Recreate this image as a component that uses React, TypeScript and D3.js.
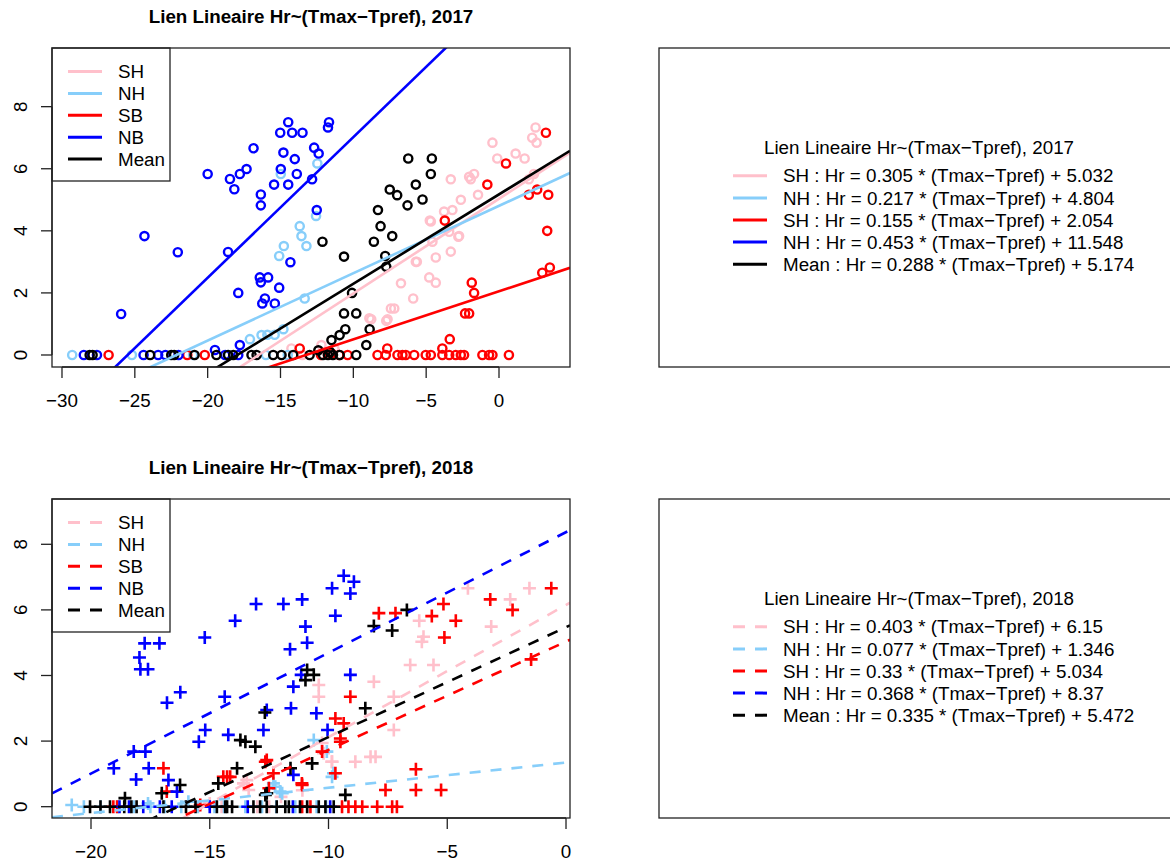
import React from 'react';
import * as d3 from 'd3';

type P = [number, number];

const groupNames = ['SH', 'NH', 'SB', 'NB', 'Mean'];
const groupColors = ['pink', 'lightskyblue', 'red', 'blue', 'black'];
const eqNames = ['SH', 'NH', 'SH', 'NH', 'Mean'];

const slopes2017 = [0.305, 0.217, 0.155, 0.453, 0.288];
const intercepts2017 = [5.032, 4.804, 2.054, 11.548, 5.174];
const slopes2018 = [0.403, 0.077, 0.33, 0.368, 0.335];
const intercepts2018 = [6.15, 1.346, 5.034, 8.37, 5.472];

const xTicks2017 = [-30, -25, -20, -15, -10, -5, 0];
const xTicks2018 = [-20, -15, -10, -5, 0];
const yTicks = [0, 2, 4, 6, 8];

const sh2017: P[] = [
  [-7.19, 1.5], [-7.42, 1.5], [-8.77, 1.15], [-7.74, 1.1], [-8.9, 1.18], [-7.65, 1.15], [-12.19, 0.32],
  [-14.25, 0.21], [-11.3, 0.2], [-6.73, 2.31], [-5.89, 1.82], [-5.71, 3.0], [-4.79, 2.5], [-4.34, 2.33],
  [-4.34, 3.14], [-3.31, 3.33], [-2.79, 3.81], [-4.68, 4.3], [-3.77, 4.62], [-3.2, 4.67], [-2.62, 5.0],
  [-3.31, 5.66], [-2.05, 5.74], [-1.71, 5.83], [-1.94, 5.66], [-1.44, 5.16], [-0.45, 6.84], [-0.12, 6.33],
  [1.14, 6.49], [1.76, 6.33], [2.51, 7.33], [2.28, 7.0], [2.58, 6.84], [2.4, 5.83], [2.05, 5.66],
  [-4.75, 4.33], [-4.57, 3.65], [-3.42, 3.97], [-2.74, 3.83], [-5.64, 3.0], [-13.5, 0], [-11.8, 0.05],
];
const nh2017: P[] = [
  [-29.3, 0], [-25.2, 0], [-21.0, 0], [-18.6, 0], [-12.47, 6.17], [-14.98, 5.83], [-12.56, 4.48],
  [-13.68, 4.15], [-13.56, 3.83], [-13.22, 3.51], [-14.77, 3.51], [-15.09, 3.19], [-13.34, 1.82],
  [-17.1, 0.51], [-16.3, 0.64], [-15.9, 0.65], [-15.4, 0.65], [-14.8, 0.83], [-16.0, 0], [-14.5, 0],
];
const sb2017: P[] = [
  [-26.8, 0], [-21.4, 0], [-20.2, 0], [-13.68, 0.21], [-12.22, 0], [-10.96, 0], [-10.39, 0], [-8.34, 0],
  [-7.77, 0], [-7.67, 0.21], [-6.97, 0], [-6.63, 0], [-6.4, 0], [-5.82, 0], [-5.03, 0], [-4.68, 0],
  [-3.89, 0], [-3.89, 0.21], [-3.42, 0], [-2.97, 0], [-2.62, 0], [-2.4, 0], [-1.14, 0], [-0.68, 0],
  [-0.45, 0], [0.68, 0], [-3.38, 0.51], [-2.33, 1.34], [-2.05, 1.34], [-1.87, 2.33], [-1.71, 2.0],
  [-3.72, 4.33], [-0.8, 5.49], [0.48, 6.17], [3.22, 7.16], [2.05, 5.16], [2.62, 5.33], [3.38, 5.16],
  [3.31, 4.0], [2.97, 2.65], [3.49, 2.82], [-11.5, 0.05],
];
const nb2017: P[] = [
  [-28.5, 0], [-27.6, 0], [-24.4, 0], [-23.4, 0], [-22.9, 0], [-22.0, 0], [-18.8, 0], [-19.5, 0.16],
  [-17.9, 0], [-25.94, 1.32], [-24.34, 3.83], [-22.05, 3.31], [-18.6, 3.32], [-20.0, 5.83], [-14.47, 7.5],
  [-15.02, 7.16], [-14.2, 7.16], [-13.49, 7.16], [-11.67, 7.5], [-11.74, 7.33], [-16.85, 6.66],
  [-14.8, 6.52], [-12.69, 6.68], [-12.38, 6.49], [-14.02, 6.31], [-14.98, 5.99], [-17.33, 5.99],
  [-17.79, 5.83], [-18.47, 5.67], [-18.17, 5.34], [-15.44, 5.49], [-14.47, 5.49], [-13.88, 5.83],
  [-12.83, 5.66], [-16.35, 5.17], [-16.35, 4.82], [-12.51, 4.67], [-14.32, 2.99], [-16.42, 2.5],
  [-15.85, 2.5], [-16.35, 2.34], [-17.9, 2.0], [-15.09, 2.17], [-16.07, 1.82], [-16.25, 1.66],
  [-15.39, 1.66], [-17.79, 0.32],
];
const mean2017: P[] = [
  [-28.1, 0], [-27.9, 0], [-23.95, 0], [-22.5, 0], [-22.3, 0], [-20.9, 0], [-19.4, 0], [-18.6, 0],
  [-18.24, 0], [-16.99, 0], [-16.64, 0], [-15.5, 0], [-14.93, 0], [-14.13, 0], [-13.0, 0], [-12.08, 0],
  [-11.74, 0], [-11.4, 0], [-10.94, 0], [-9.8, 0], [-12.12, 3.65], [-10.64, 3.17], [-10.09, 2.0],
  [-10.64, 1.34], [-9.8, 1.34], [-10.55, 0.83], [-10.94, 0.64], [-11.5, 0.48], [-9.11, 0.32],
  [-8.88, 0.83], [-7.5, 5.33], [-6.99, 5.15], [-8.31, 4.67], [-8.13, 4.15], [-7.33, 3.83], [-8.59, 3.65],
  [-7.81, 3.19], [-7.74, 2.84], [-6.23, 6.33], [-4.61, 6.33], [-4.68, 5.83], [-5.71, 5.49], [-6.28, 4.82],
  [-5.25, 5.01], [-11.6, 0.1], [-12.4, 0.15],
];

const sh2018: P[] = [
  [-10.41, 3.71], [-10.41, 3.35], [-8.09, 3.81], [-7.25, 3.35], [-7.25, 2.34], [-9.85, 1.37], [-8.87, 1.37],
  [-8.23, 1.52], [-8.02, 1.52], [-10.27, 1.94], [-10.21, 1.63], [-9.86, 1.37], [-4.13, 6.66], [-1.54, 6.66],
  [-2.35, 6.32], [-6.18, 5.67], [-6.0, 5.18], [-6.07, 5.03], [-3.15, 5.49], [-6.56, 4.32], [-5.58, 4.32],
  [-13.44, 0.81], [-13.36, 0.51], [-13.58, 0.71], [-11.1, 0.5], [-12.0, 0.3], [-15.0, 0.1], [-14.5, 0],
  [-12.5, 0], [-10.8, 0], [-13.0, 0],
];
const nh2018: P[] = [
  [-20.81, 0.05], [-20.3, 0], [-19.6, 0], [-18.9, 0], [-18.2, 0], [-17.5, 0], [-16.9, 0], [-16.2, 0],
  [-15.5, 0], [-14.8, 0], [-14.4, 0], [-13.5, 0], [-12.8, 0], [-12.2, 0], [-11.4, 0], [-10.5, 0],
  [-10.1, 0], [-12.32, 0.71], [-12.04, 0.46], [-10.62, 2.03], [-10.07, 1.68], [-9.79, 1.02], [-9.85, 0.91],
  [-12.24, 0.61], [-11.95, 0.41], [-17.6, 0.1], [-15.9, 0.15],
];
const sb2018: P[] = [
  [-7.88, 5.9], [-7.18, 5.9], [-9.08, 3.35], [-9.71, 2.69], [-9.36, 2.54], [-9.5, 2.08], [-9.5, 1.98],
  [-12.66, 1.37], [-14.27, 0.91], [-11.11, 0.66], [-9.71, 1.02], [-7.6, 0.51], [-12.51, 0.56],
  [-10.27, 1.68], [-11.11, 0], [-10.76, 0], [-9.43, 0], [-8.87, 0], [-8.58, 0], [-7.95, 0], [-7.32, 0],
  [-7.12, 0], [-9.16, 0], [-0.62, 6.66], [-3.19, 6.32], [-2.25, 6.0], [-5.16, 6.18], [-5.65, 5.81],
  [-4.64, 5.67], [-5.12, 5.16], [-1.47, 4.49], [-6.32, 1.14], [-6.32, 0.51], [-5.26, 0.51],
  [-16.95, 1.17], [-16.81, 0.46], [-14.14, 0.91], [-14.43, 0.91], [-12.6, 1.42], [-12.32, 1.02],
  [-19.06, 0], [-18.9, 0], [-15.4, 0.05], [-11.12, 0.71],
];
const nb2018: P[] = [
  [-15.21, 5.16], [-17.74, 4.98], [-17.12, 4.98], [-17.96, 4.55], [-17.92, 4.19], [-17.6, 4.19],
  [-16.24, 3.49], [-16.8, 3.17], [-14.37, 3.35], [-15.19, 2.34], [-15.46, 1.98], [-18.2, 1.68],
  [-17.71, 1.68], [-19.04, 1.17], [-17.57, 1.17], [-18.1, 0.83], [-16.74, 0.81], [-16.38, 0.46],
  [-14.22, 2.19], [-12.74, 2.34], [-12.6, 2.95], [-13.93, 5.67], [-13.05, 6.18], [-11.9, 6.18],
  [-11.62, 4.8], [-11.48, 3.66], [-11.58, 3.0], [-11.48, 0.97], [-9.36, 7.04], [-8.93, 6.86],
  [-9.08, 6.5], [-9.85, 6.66], [-11.11, 6.32], [-11.15, 4.02], [-10.51, 2.85], [-9.08, 4.02],
  [-10.04, 2.34], [-9.71, 5.82], [-10.97, 5.49], [-10.9, 5.0], [-18.8, 0], [-18.4, 0], [-17.8, 0],
  [-17.1, 0], [-16.6, 0], [-15.0, 0], [-13.4, 0], [-11.5, 0], [-9.93, 0],
];
const mean2018: P[] = [
  [-8.09, 5.51], [-7.32, 5.37], [-6.7, 6.0], [-10.9, 4.17], [-10.62, 4.02], [-10.97, 3.86], [-8.45, 3.0],
  [-12.68, 2.87], [-13.71, 2.03], [-13.5, 1.98], [-13.08, 1.83], [-11.6, 1.17], [-10.69, 1.32],
  [-13.85, 1.17], [-9.29, 0.36], [-12.66, 0.36], [-18.57, 0.26], [-17.02, 0.41], [-16.25, 0.66],
  [-14.64, 0.71], [-12.6, 0.41], [-20.04, 0], [-19.6, 0], [-19.2, 0], [-18.6, 0], [-18.3, 0], [-18.08, 0],
  [-16.95, 0], [-16.0, 0], [-15.6, 0], [-14.7, 0], [-14.35, 0], [-14.27, 0], [-14.06, 0], [-13.16, 0],
  [-12.88, 0], [-12.6, 0], [-12.18, 0], [-11.82, 0], [-11.67, 0], [-11.2, 0], [-10.9, 0], [-10.41, 0],
  [-10.13, 0], [-9.78, 0],
];

const data2017 = [sh2017, nh2017, sb2017, nb2017, mean2017];
const data2018 = [sh2018, nh2018, sb2018, nb2018, mean2018];

const FONT = '"Liberation Sans", Arial, Helvetica, sans-serif';
const FS = 18.8;

type PlotCfg = {
  year: string;
  top: number;
  bottom: number;
  xDomain: [number, number];
  yDomain: [number, number];
  xTicks: number[];
  data: P[][];
  slopes: number[];
  intercepts: number[];
  dashed: boolean;
  plus: boolean;
};

const LEFT = 52;
const RIGHT = 570;

function Plot({ cfg }: { cfg: PlotCfg }) {
  const x = d3.scaleLinear().domain(cfg.xDomain).range([LEFT, RIGHT]);
  const y = d3.scaleLinear().domain(cfg.yDomain).range([cfg.bottom, cfg.top]);
  const clipId = 'clip' + cfg.year;
  const dash = cfg.dashed ? '11 10' : undefined;
  const line = d3.line<P>().x((d) => x(d[0])).y((d) => y(d[1]));
  const rowH = 21.9;
  const legTop = cfg.top;
  const title = `Lien Lineaire Hr~(Tmax\u2212Tpref), ${cfg.year}`;
  return (
    <g>
      <defs>
        <clipPath id={clipId}>
          <rect x={LEFT} y={cfg.top} width={RIGHT - LEFT} height={cfg.bottom - cfg.top} />
        </clipPath>
      </defs>
      <text x={(LEFT + RIGHT) / 2} y={cfg.top - 25.5} textAnchor="middle" fontWeight="bold" fontSize={FS} fontFamily={FONT}>
        {title}
      </text>
      <g clipPath={`url(#${clipId})`}>
        {cfg.data.map((pts, gi) => (
          <g key={gi} stroke={groupColors[gi]} strokeWidth={cfg.plus ? 2.6 : 2.4} fill="none">
            {pts.map((p, i) =>
              cfg.plus ? (
                <path key={i} d={`M${x(p[0]) - 6.5},${y(p[1])}h13M${x(p[0])},${y(p[1]) - 6.5}v13`} />
              ) : (
                <circle key={i} cx={x(p[0])} cy={y(p[1])} r={4.1} />
              )
            )}
          </g>
        ))}
        {cfg.slopes.map((b, gi) => {
          const a = cfg.intercepts[gi];
          const pts: P[] = cfg.xDomain.map((xv) => [xv, a + b * xv] as P);
          return (
            <path key={gi} d={line(pts) || ''} stroke={groupColors[gi]} strokeWidth={2.6} fill="none" strokeDasharray={dash} />
          );
        })}
      </g>
      {/* in-plot legend */}
      <rect x={LEFT} y={legTop} width={118} height={133} fill="white" stroke="#222" strokeWidth={1.3} />
      {groupNames.map((n, i) => {
        const cy = legTop + 23.5 + i * rowH;
        return (
          <g key={n}>
            <line x1={68} x2={102} y1={cy} y2={cy} stroke={groupColors[i]} strokeWidth={3} strokeDasharray={cfg.dashed ? '12 10' : undefined} />
            <text x={118} y={cy + 6.6} fontSize={FS} fontFamily={FONT}>{n}</text>
          </g>
        );
      })}
      {/* box */}
      <rect x={LEFT} y={cfg.top} width={RIGHT - LEFT} height={cfg.bottom - cfg.top} fill="none" stroke="#222" strokeWidth={1.3} />
      {/* x axis */}
      <line x1={x(cfg.xTicks[0])} x2={x(cfg.xTicks[cfg.xTicks.length - 1])} y1={cfg.bottom} y2={cfg.bottom} stroke="#222" strokeWidth={1.3} />
      {cfg.xTicks.map((t) => (
        <g key={t}>
          <line x1={x(t)} x2={x(t)} y1={cfg.bottom} y2={cfg.bottom + 11} stroke="#222" strokeWidth={1.3} />
          <text x={x(t)} y={cfg.bottom + 39.5} textAnchor="middle" fontSize={FS} fontFamily={FONT}>
            {t < 0 ? '\u2212' + Math.abs(t) : String(t)}
          </text>
        </g>
      ))}
      {/* y axis */}
      <line x1={LEFT} x2={LEFT} y1={y(yTicks[0])} y2={y(yTicks[yTicks.length - 1])} stroke="#222" strokeWidth={1.3} />
      {yTicks.map((t) => (
        <g key={t}>
          <line x1={LEFT} x2={LEFT - 11} y1={y(t)} y2={y(t)} stroke="#222" strokeWidth={1.3} />
          <text transform={`translate(26.5,${y(t)}) rotate(-90)`} textAnchor="middle" fontSize={FS} fontFamily={FONT}>
            {String(t)}
          </text>
        </g>
      ))}
    </g>
  );
}

function SidePanel({ cfg }: { cfg: PlotCfg }) {
  const title = `Lien Lineaire Hr~(Tmax\u2212Tpref), ${cfg.year}`;
  const titleY = cfg.top + 99.3;
  const rowY = (i: number) => titleY + 28.5 + i * 22.1;
  return (
    <g>
      <rect x={659} y={cfg.top} width={600} height={cfg.bottom - cfg.top} fill="none" stroke="#222" strokeWidth={1.3} />
      <text x={764} y={titleY + 6.6} fontSize={FS} fontFamily={FONT}>{title}</text>
      {cfg.slopes.map((b, i) => (
        <g key={i}>
          <line x1={733} x2={767} y1={rowY(i)} y2={rowY(i)} stroke={groupColors[i]} strokeWidth={3} strokeDasharray={cfg.dashed ? '12 10' : undefined} />
          <text x={783} y={rowY(i) + 6.6} fontSize={FS} fontFamily={FONT}>
            {`${eqNames[i]} : Hr = ${b} * (Tmax\u2212Tpref) + ${cfg.intercepts[i]}`}
          </text>
        </g>
      ))}
    </g>
  );
}

const cfg2017: PlotCfg = {
  year: '2017', top: 48, bottom: 367, xDomain: [-30.686, 4.874], yDomain: [-0.387, 9.89],
  xTicks: xTicks2017, data: data2017, slopes: slopes2017, intercepts: intercepts2017, dashed: false, plus: false,
};
const cfg2018: PlotCfg = {
  year: '2018', top: 499, bottom: 818, xDomain: [-21.642, 0.168], yDomain: [-0.345, 9.381],
  xTicks: xTicks2018, data: data2018, slopes: slopes2018, intercepts: intercepts2018, dashed: true, plus: true,
};

export default function App() {
  return (
    <svg width={1170} height={863} style={{ position: 'absolute', left: 0, top: 0, background: 'white' }}>
      <rect x={0} y={0} width={1170} height={863} fill="white" />
      <Plot cfg={cfg2017} />
      <Plot cfg={cfg2018} />
      <SidePanel cfg={cfg2017} />
      <SidePanel cfg={cfg2018} />
    </svg>
  );
}
